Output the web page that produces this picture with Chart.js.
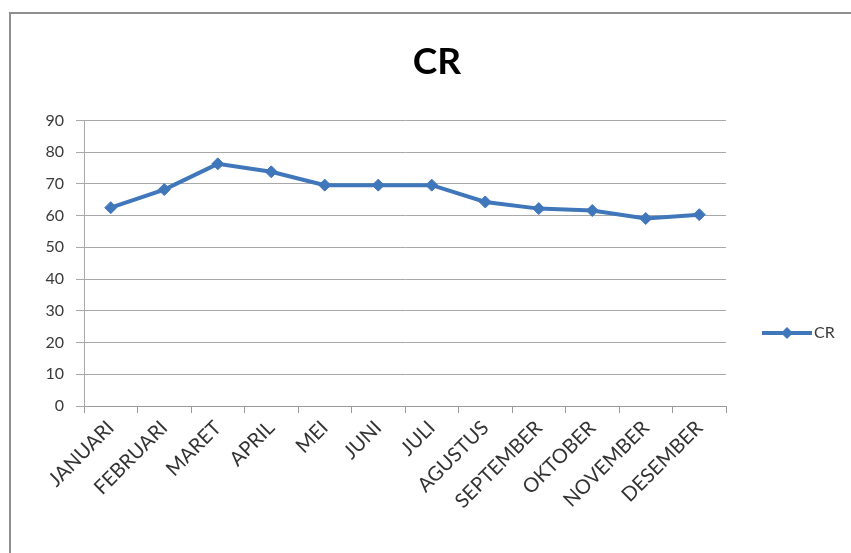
<!DOCTYPE html>
<html>
<head>
<meta charset="utf-8">
<script src="https://cdn.jsdelivr.net/npm/chart.js@4/dist/chart.umd.min.js"></script>
<style>
  html, body { margin: 0; padding: 0; background: #ffffff; overflow: hidden; }
  #wrap { position: relative; width: 851px; height: 553px; }
  #frame {
    position: absolute; left: 9px; top: 12px; width: 900px; height: 600px;
    border: 2px solid #8f8f8f; box-sizing: border-box; background: #ffffff;
  }
  #c { position: absolute; left: 0; top: 0; }
</style>
</head>
<body>
<div id="wrap">
  <div id="frame"></div>
  <canvas id="c" width="851" height="553"></canvas>
</div>
<script>
// Monthly CR values
const months = ['JANUARI', 'FEBRUARI', 'MARET', 'APRIL', 'MEI', 'JUNI', 'JULI',
                'AGUSTUS', 'SEPTEMBER', 'OKTOBER', 'NOVEMBER', 'DESEMBER'];
const crValues = [62.5, 68.2, 76.3, 73.8, 69.6, 69.6, 69.6, 64.3, 62.2, 61.6, 59.1, 60.3];
const seriesName = 'CR';
const chartTitle = 'CR';
const yMin = 0;
const yMax = 90;
const yStep = 10;

const lineColor = '#4077bb';
const fontFamily = 'Lato, "Open Sans", sans-serif';

// Legend at the right: a short line with a diamond marker, then the series name
const sideLegend = {
  id: 'sideLegend',
  afterDraw(chart) {
    const ctx = chart.ctx;
    const ds = chart.data.datasets[0];
    const x0 = 762, x1 = 812, y = 333;
    const cx = (x0 + x1) / 2;
    const r = ds.pointRadius;
    ctx.save();
    ctx.strokeStyle = ds.borderColor;
    ctx.lineWidth = ds.borderWidth;
    ctx.beginPath();
    ctx.moveTo(x0, y);
    ctx.lineTo(x1, y);
    ctx.stroke();
    ctx.fillStyle = ds.pointBackgroundColor;
    ctx.beginPath();
    ctx.moveTo(cx, y - r);
    ctx.lineTo(cx + r, y);
    ctx.lineTo(cx, y + r);
    ctx.lineTo(cx - r, y);
    ctx.closePath();
    ctx.fill();
    ctx.fillStyle = '#3a3a3a';
    ctx.font = '16px ' + fontFamily;
    ctx.textBaseline = 'middle';
    ctx.textAlign = 'left';
    ctx.fillText(ds.label, x1 + 2, y);
    ctx.restore();
  }
};

new Chart(document.getElementById('c'), {
  type: 'line',
  data: {
    labels: months,
    datasets: [{
      label: seriesName,
      data: crValues,
      borderColor: lineColor,
      backgroundColor: lineColor,
      borderWidth: 4,
      tension: 0,
      pointStyle: 'rectRot',
      pointRadius: 6,
      pointHoverRadius: 6,
      pointBackgroundColor: lineColor,
      pointBorderColor: lineColor,
      pointBorderWidth: 1
    }]
  },
  options: {
    responsive: false,
    animation: false,
    events: [],
    layout: { padding: { left: 23, right: 0, top: 14, bottom: 0 } },
    plugins: {
      legend: { display: false },
      tooltip: { enabled: false },
      title: {
        display: true,
        text: chartTitle,
        color: '#000000',
        font: { family: fontFamily, size: 37, weight: 'bold', lineHeight: 1.2 },
        padding: { top: 26, bottom: 36 }
      }
    },
    scales: {
      x: {
        type: 'category',
        offset: true,
        grid: {
          offset: true,
          drawOnChartArea: false,
          drawTicks: true,
          tickLength: 7,
          color: '#9a9a9a',
          lineWidth: 1
        },
        border: { display: true, color: '#9a9a9a', width: 1 },
        ticks: {
          autoSkip: false,
          minRotation: 45,
          maxRotation: 45,
          padding: 3,
          color: '#333333',
          font: { family: fontFamily, size: 20 }
        },
        afterFit(scale) { scale.height = 147; }
      },
      y: {
        min: yMin,
        max: yMax,
        ticks: {
          stepSize: yStep,
          padding: 12,
          color: '#3a3a3a',
          font: { family: fontFamily, size: 16 }
        },
        grid: {
          drawTicks: true,
          tickLength: 8,
          color: '#a8a8a8',
          lineWidth: 1
        },
        border: { display: true, color: '#a8a8a8', width: 1 },
        afterFit(scale) { scale.width = 61; }
      },
      // empty right-hand axis that keeps the legend column free
      legendSpace: {
        type: 'linear',
        position: 'right',
        display: true,
        grid: { display: false, drawTicks: false },
        border: { display: false },
        ticks: { display: false },
        afterFit(scale) { scale.width = 125; }
      }
    }
  },
  plugins: [sideLegend]
});
</script>
</body>
</html>
